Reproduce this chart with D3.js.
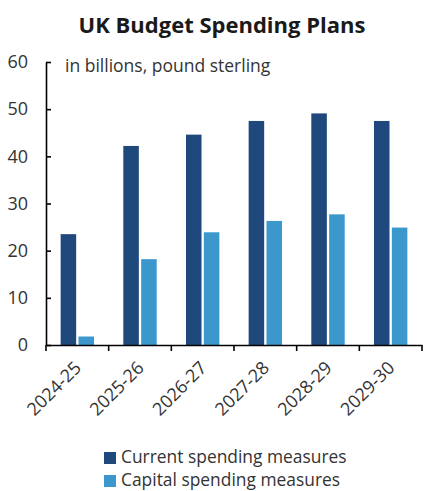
<!DOCTYPE html>
<html>
<head>
<meta charset="utf-8">
<script src="https://cdn.jsdelivr.net/npm/d3@7"></script>
<style>
  body { margin: 0; background: #fff; }
  text { font-family: "Open Sans", sans-serif; }
</style>
</head>
<body>
<div id="wrapper"></div>
<script>
const years = ["2024-25", "2025-26", "2026-27", "2027-28", "2028-29", "2029-30"];
const currentSpending = [23.5, 42.2, 44.6, 47.5, 49.1, 47.5];
const capitalSpending = [1.8, 18.2, 23.9, 26.3, 27.7, 24.9];
const seriesNames = ["Current spending measures", "Capital spending measures"];
const yTicks = [0, 10, 20, 30, 40, 50, 60];

function buildPlot() {
    const dimension = {
        width: 433,
        height: 491,
        margin: { top: 62, left: 46, bottom: 146, right: 11 }
    };
    dimension.boundedWidth = dimension.width - dimension.margin.left - dimension.margin.right;
    dimension.boundedHeight = dimension.height - dimension.margin.top - dimension.margin.bottom;

    const colors = ["#1f497c", "#3c98cc"];

    const svg = d3.select("#wrapper").append("svg")
        .attr("width", dimension.width)
        .attr("height", dimension.height);

    // title
    svg.append("text")
        .attr("x", 222).attr("y", 33)
        .attr("text-anchor", "middle")
        .attr("font-size", 22).attr("font-weight", "bold")
        .attr("fill", "#1a1a1a")
        .text("UK Budget Spending Plans");

    const bounded = svg.append("g")
        .attr("transform", `translate(${dimension.margin.left},${dimension.margin.top})`);

    const x0 = d3.scaleBand().domain(years).range([0, dimension.boundedWidth]);
    const x1 = d3.scaleBand().domain([0, 1]).range([0, x0.bandwidth()])
        .paddingInner(0.13).paddingOuter(0.82);
    const yScaler = d3.scaleLinear().domain([0, 60]).range([dimension.boundedHeight, 0]);

    const rows = years.map((yr, i) => ({ yr, values: [currentSpending[i], capitalSpending[i]] }));

    const groups = bounded.selectAll(".grp").data(rows).join("g")
        .attr("transform", d => `translate(${x0(d.yr)},0)`);
    groups.selectAll("rect").data(d => d.values).join("rect")
        .attr("x", (d, i) => x1(i))
        .attr("width", x1.bandwidth())
        .attr("y", d => yScaler(d))
        .attr("height", d => dimension.boundedHeight - yScaler(d))
        .attr("fill", (d, i) => colors[i]);

    // y axis, ticks pointing inwards
    const yAxis = bounded.append("g")
        .call(d3.axisRight(yScaler).tickValues(yTicks).tickSize(5).tickSizeOuter(0));
    yAxis.select(".domain").attr("stroke", "#000").attr("stroke-width", 1.6);
    yAxis.selectAll(".tick line").attr("stroke", "#000").attr("stroke-width", 1.6);
    yAxis.selectAll(".tick text")
        .attr("x", -18).attr("text-anchor", "end")
        .attr("font-size", 18).attr("fill", "#333");

    bounded.append("text")
        .attr("x", 19).attr("y", 10)
        .attr("font-size", 17.5).attr("fill", "#333")
        .text("in billions, pound sterling");

    // x axis
    const xAxis = bounded.append("g")
        .attr("transform", `translate(0,${dimension.boundedHeight})`)
        .call(d3.axisBottom(x0).tickSize(0).tickSizeOuter(0));
    xAxis.select(".domain").attr("stroke", "#000").attr("stroke-width", 1.6);
    xAxis.selectAll(".tick text")
        .attr("font-size", 18).attr("fill", "#333")
        .attr("text-anchor", "end")
        .attr("y", 0).attr("dy", 0)
        .attr("transform", "translate(5,24) rotate(-45)");

    // boundary ticks between the groups
    const edges = years.map(y => x0(y)).concat([dimension.boundedWidth]);
    bounded.append("g").selectAll("line").data(edges).join("line")
        .attr("x1", d => d).attr("x2", d => d)
        .attr("y1", dimension.boundedHeight).attr("y2", dimension.boundedHeight + 6)
        .attr("stroke", "#000").attr("stroke-width", 1.6);

    // legend
    const legend = svg.append("g").attr("transform", "translate(104,452)");
    const item = legend.selectAll("g").data(seriesNames).join("g")
        .attr("transform", (d, i) => `translate(0,${i * 23})`);
    item.append("rect").attr("width", 12).attr("height", 12)
        .attr("fill", (d, i) => colors[i]);
    item.append("text").attr("x", 17).attr("y", 11)
        .attr("font-size", 17.4).attr("fill", "#333")
        .text(d => d);
}
buildPlot();
</script>
</body>
</html>
